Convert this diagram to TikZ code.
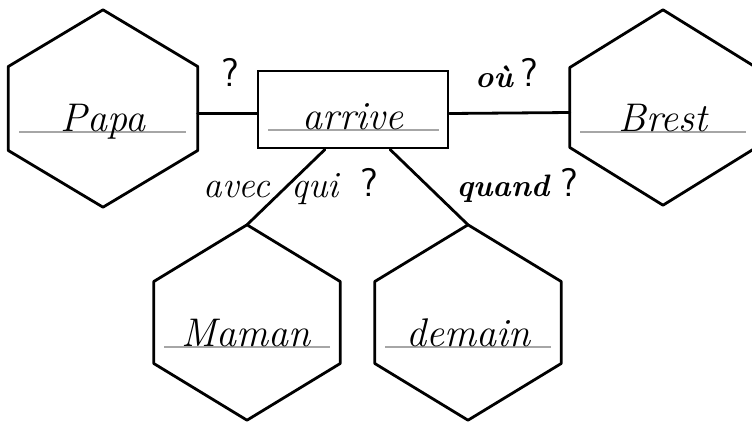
\documentclass[tikz,border=0pt]{standalone}
\usetikzlibrary{calc}
\newcommand{\hexdraw}[2]{%
  \draw[outline] (#1.north) -- ($(#1.east)+(0,-#2)$) -- ($(#1.east)+(0,#2)$) -- (#1.south)
    -- ($(#1.west)+(0,#2)$) -- ($(#1.west)+(0,-#2)$) -- cycle;}
\begin{document}
\begin{tikzpicture}[x=1pt,y=-1pt,
  outline/.style={line width=2.8pt, line join=round, line cap=round, black},
  conn/.style={line width=2.8pt, line cap=round, black},
  guide/.style={line width=1.3pt, gray!70},
  hexbox/.style 2 args={draw=none, inner sep=0pt, minimum width=#1, minimum height=#2},
  word/.style={anchor=base, inner sep=0pt, font=\fontsize{40}{44}\selectfont\itshape},
  lab/.style={anchor=base, inner sep=0pt, font=\fontsize{37}{40}\selectfont\itshape},
  blab/.style={anchor=base, inner sep=0pt, font=\fontsize{31}{34}\selectfont\bfseries\itshape},
  qm/.style={anchor=base, inner sep=0pt, font=\fontsize{40}{44}\selectfont\sffamily}]
\useasboundingbox[fill=white] (0,0) rectangle (752,421);

% hexagon frames
\node[hexbox={189}{197}] (papa) at (103,108.5) {};
\node[hexbox={186}{195}] (brest) at (663,107.5) {};
\node[hexbox={186}{195}] (maman) at (247,322.5) {};
\node[hexbox={186}{195}] (demain) at (468,322.5) {};
\hexdraw{papa}{42}
\hexdraw{brest}{40}
\hexdraw{maman}{41}
\hexdraw{demain}{41}

% verb box
\node[draw, line width=2.8pt, inner sep=0pt, minimum width=190, minimum height=77] (arrive) at (353,109.5) {};

% guide lines
\draw[guide] (19,132) -- (186,132);
\draw[guide] (268,130) -- (439,130);
\draw[guide] (580,132) -- (746,132);
\draw[guide] (164,347) -- (330,347);
\draw[guide] (385,347) -- (551,347);

% words
\node[word] (tpapa) at (103,131) {Papa};
\node[word] (tarrive) at (353,129) {arrive};
\node[word] (tbrest) at (663,131) {Brest};
\node[word] (tmaman) at (246,346) {Maman};
\node[word] (tdemain) at (468,346) {demain};

% connectors
\draw[conn] ([yshift=-5pt]papa.east) -- ([yshift=-4pt]arrive.west);
\draw[conn] ([yshift=-4pt]arrive.east) -- ([yshift=-5pt]brest.west);
\draw[conn] ([xshift=-28pt]arrive.south) -- (maman.north);
\draw[conn] ([xshift=37pt]arrive.south) -- (demain.north);

% question labels
\node[qm] (q1) at (230,86) {?};
\node[blab] (lou) at (494,87) {où};
\node[qm] (q2) at (529,86) {?};
\node[lab] (lavec) at (237,197) {avec};
\node[lab] (lqui) at (315,197) {qui};
\node[qm] (q3) at (369,196) {?};
\node[blab] (lquand) at (503,196) {quand};
\node[qm] (q4) at (569,196) {?};
\end{tikzpicture}
\end{document}
